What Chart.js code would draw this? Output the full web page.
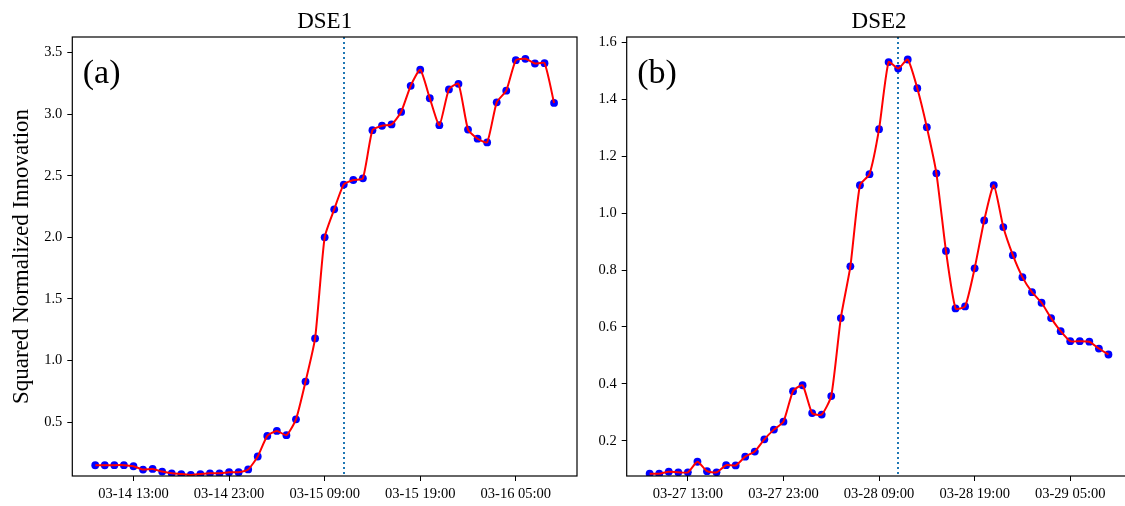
<!DOCTYPE html>
<html>
<head>
<meta charset="utf-8">
<script src="https://cdn.jsdelivr.net/npm/chart.js@4.4.0/dist/chart.umd.min.js"></script>
<style>
  html, body { margin: 0; padding: 0; background: #fff; overflow: hidden; width: 1125px; height: 506px; }
  #wrap { position: relative; width: 1125px; height: 506px; overflow: hidden; }
  canvas { position: absolute; top: 0; }
  #c1 { left: 0px; }
  #c2 { left: 580px; }
</style>
</head>
<body>
<div id="wrap">
  <canvas id="c1" width="600" height="506"></canvas>
  <canvas id="c2" width="560" height="506"></canvas>
</div>
<script>
// ---- data (hourly samples, hour offset from the first sample) ----
const hours = [0,1,2,3,4,5,6,7,8,9,10,11,12,13,14,15,16,17,18,19,20,21,22,23,24,25,26,27,28,29,30,31,32,33,34,35,36,37,38,39,40,41,42,43,44,45,46,47,48];

const dse1Values = [0.151,0.151,0.152,0.152,0.143,0.116,0.121,0.100,0.086,0.080,
                    0.072,0.080,0.086,0.086,0.095,0.095,0.117,0.222,0.389,0.430,
                    0.395,0.524,0.830,1.180,2.000,2.227,2.428,2.465,2.479,2.869,
                    2.905,2.916,3.017,3.229,3.360,3.128,2.910,3.200,3.245,2.874,
                    2.800,2.770,3.095,3.190,3.437,3.448,3.410,3.413,3.090];

const dse2Values = [0.084,0.084,0.091,0.089,0.089,0.126,0.093,0.089,0.114,0.113,
                    0.144,0.162,0.205,0.239,0.267,0.374,0.395,0.297,0.292,0.357,
                    0.631,0.813,1.098,1.137,1.295,1.531,1.508,1.540,1.439,1.302,
                    1.140,0.867,0.665,0.672,0.806,0.974,1.098,0.951,0.852,0.775,
                    0.722,0.685,0.631,0.585,0.550,0.550,0.548,0.524,0.503];

const xTickHours = [4, 14, 24, 34, 44];
const xTickLabels1 = ['03-14 13:00', '03-14 23:00', '03-15 09:00', '03-15 19:00', '03-16 05:00'];
const xTickLabels2 = ['03-27 13:00', '03-27 23:00', '03-28 09:00', '03-28 19:00', '03-29 05:00'];
const yTicks1 = [0.5, 1.0, 1.5, 2.0, 2.5, 3.0, 3.5];
const yTicks2 = [0.2, 0.4, 0.6, 0.8, 1.0, 1.2, 1.4, 1.6];
const eventHour1 = 26;
const eventHour2 = 26;

const titles = ['DSE1', 'DSE2'];
const panelLabels = ['(a)', '(b)'];
const yLabel = 'Squared Normalized Innovation';

const FONT = '"Liberation Serif", "Times New Roman", serif';

function makeChart(canvasId, values, xLabels, yTicks, yMin, yMax, eventHour, title, panel, yAxisWidth, padRight, drawYLabel) {
  const pts = hours.map((h, i) => ({ x: h, y: values[i] }));
  const overlay = {
    id: 'overlay' + canvasId,
    beforeDatasetsDraw(chart) {
      const { ctx, chartArea: a, scales } = chart;
      const x = Math.round(scales.x.getPixelForValue(eventHour));
      ctx.save();
      ctx.beginPath();
      ctx.rect(a.left, a.top, a.right - a.left, a.bottom - a.top);
      ctx.clip();
      ctx.strokeStyle = '#1f77b4';
      ctx.lineWidth = 2;
      ctx.setLineDash([2, 3]);
      ctx.beginPath();
      ctx.moveTo(x, a.top);
      ctx.lineTo(x, a.bottom);
      ctx.stroke();
      ctx.restore();
    },
    afterDraw(chart) {
      const { ctx, chartArea: a } = chart;
      ctx.save();
      ctx.strokeStyle = '#000';
      ctx.lineWidth = 1.2;
      ctx.strokeRect(a.left, a.top, a.right - a.left, a.bottom - a.top);
      // title
      ctx.fillStyle = '#000';
      ctx.font = '23px ' + FONT;
      ctx.textAlign = 'center';
      ctx.textBaseline = 'alphabetic';
      ctx.fillText(title, (a.left + a.right) / 2, 28);
      // panel label
      ctx.font = '34px ' + FONT;
      ctx.textAlign = 'left';
      ctx.fillText(panel, a.left + 10.5, a.top + 46);
      if (drawYLabel) {
        ctx.translate(22, (a.top + a.bottom) / 2);
        ctx.rotate(-Math.PI / 2);
        ctx.font = '23px ' + FONT;
        ctx.textAlign = 'center';
        ctx.textBaseline = 'middle';
        ctx.fillText(yLabel, 0, 0);
      }
      ctx.restore();
    }
  };
  return new Chart(document.getElementById(canvasId), {
    type: 'scatter',
    data: {
      datasets: [
        {
          type: 'line',
          data: pts,
          borderColor: '#ff0000',
          borderWidth: 2,
          pointRadius: 0,
          tension: 0.18,
          fill: false,
          order: 0
        },
        {
          type: 'scatter',
          data: pts,
          backgroundColor: '#0000ff',
          borderColor: '#0000ff',
          pointRadius: 3.9,
          borderWidth: 0,
          order: 1
        }
      ]
    },
    options: {
      responsive: false,
      animation: false,
      events: [],
      layout: { padding: { left: 0, top: 37, right: padRight, bottom: 0 } },
      plugins: { legend: { display: false }, tooltip: { enabled: false } },
      scales: {
        x: {
          type: 'linear',
          min: -2.4,
          max: 50.4,
          afterBuildTicks(scale) { scale.ticks = xTickHours.map(v => ({ value: v })); },
          afterFit(scale) { scale.height = 30; },
          ticks: {
            autoSkip: false,
            maxRotation: 0,
            color: '#000',
            padding: 4.5,
            font: { family: FONT, size: 14.5 },
            callback: (v) => xLabels[xTickHours.indexOf(v)]
          },
          grid: { drawOnChartArea: false, drawTicks: true, tickLength: 5, color: '#000', lineWidth: 1 },
          border: { display: false }
        },
        y: {
          type: 'linear',
          min: yMin,
          max: yMax,
          afterBuildTicks(scale) { scale.ticks = yTicks.map(v => ({ value: v })); },
          afterFit(scale) { scale.width = yAxisWidth; },
          ticks: {
            color: '#000',
            padding: 5,
            font: { family: FONT, size: 14.5 },
            callback: (v) => Number(v).toFixed(1)
          },
          grid: { drawOnChartArea: false, drawTicks: true, tickLength: 5, color: '#000', lineWidth: 1 },
          border: { display: false }
        }
      }
    },
    plugins: [overlay]
  });
}

makeChart('c1', dse1Values, xTickLabels1, yTicks1, 0.064, 3.625, eventHour1, titles[0], panelLabels[0], 72.3, 23, true);
makeChart('c2', dse2Values, xTickLabels2, yTicks2, 0.076, 1.619, eventHour2, titles[1], panelLabels[1], 46.7, 8.6, false);
</script>
</body>
</html>
